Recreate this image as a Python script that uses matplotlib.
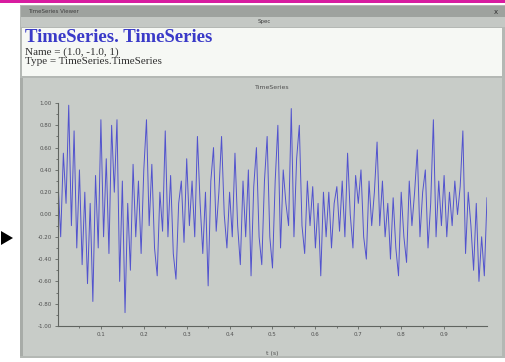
import matplotlib.pyplot as plt
from matplotlib.patches import Rectangle, Polygon
import numpy as np

# signal, 16 samples per 0.1 of time
values = [
    0.3, -0.2, 0.55, 0.1, 0.98, -0.1, 0.75, -0.3, 0.4, -0.45, 0.2, -0.62, 0.1, -0.78, 0.35, -0.3,
    0.85, -0.2, 0.5, -0.35, 0.8, 0.2, 0.85, -0.6, 0.3, -0.88, 0.1, -0.5, 0.45, -0.2, 0.3, -0.35,
    0.4, 0.85, -0.1, 0.45, -0.3, -0.55, 0.2, -0.15, 0.75, -0.2, 0.35, -0.35, -0.58, 0.1, 0.3, -0.25,
    0.5, -0.1, 0.3, -0.2, 0.7, 0.1, -0.35, 0.2, -0.64, 0.3, 0.6, -0.15, 0.2, 0.7, 0.0, -0.3,
    0.2, -0.2, 0.55, -0.1, -0.45, 0.3, -0.2, 0.4, -0.55, 0.25, 0.6, -0.2, -0.45, 0.3, 0.7, -0.2,
    -0.48, 0.3, 0.8, -0.3, 0.4, 0.1, -0.1, 0.95, -0.2, 0.5, 0.8, -0.1, -0.35, 0.3, -0.1, 0.25,
    -0.3, 0.1, -0.55, 0.2, -0.2, 0.2, -0.3, 0.1, 0.25, -0.15, 0.3, -0.2, 0.55, 0.0, -0.3, 0.35,
    0.1, 0.4, -0.2, -0.4, 0.3, -0.1, 0.2, 0.65, -0.1, 0.3, -0.2, 0.1, -0.4, 0.15, -0.3, -0.55,
    0.2, -0.2, -0.43, 0.3, -0.1, 0.2, 0.58, -0.2, 0.2, 0.4, -0.3, 0.1, 0.85, -0.2, 0.3, -0.1,
    0.35, -0.2, 0.2, -0.1, 0.3, 0.0, 0.25, 0.75, -0.35, 0.2, -0.1, -0.5, 0.1, -0.6, -0.2, -0.55, 0.15,
]
time = np.linspace(0.0, 1.0, len(values))

y_ticks = [-1.0, -0.8, -0.6, -0.4, -0.2, 0.0, 0.2, 0.4, 0.6, 0.8, 1.0]
x_ticks = [0.1, 0.2, 0.3, 0.4, 0.5, 0.6, 0.7, 0.8, 0.9]

header_title = "TimeSeries. TimeSeries"
header_name = "Name = (1.0, -1.0, 1)"
header_type = "Type = TimeSeries.TimeSeries"

W, H = 506, 362
fig = plt.figure(figsize=(W / 100, H / 100), dpi=100)
fig.patch.set_facecolor("white")


def box(x, y, w, h, color):
    # pixel box measured from the top-left corner
    fig.patches.append(Rectangle((x / W, 1 - (y + h) / H), w / W, h / H,
                                 transform=fig.transFigure, facecolor=color,
                                 edgecolor="none", zorder=-2))


def label(x, y, s, **kw):
    fig.text(x / W, 1 - y / H, s, **kw)


# magenta line at the very top
box(0, 0, W, 3, "#d81ca0")
# window frame and chrome
box(20, 5, 486, 353, "#b4b8b4")
box(21, 6, 484, 11, "#9ea29e")
box(21, 17, 484, 10, "#c4c8c4")
label(28, 11.5, "TimeSeries Viewer", fontsize=4, color="#404040", va="center")
label(258, 21.5, "Spec", fontsize=4, color="#404040", va="center")
label(494, 11.5, "x", fontsize=5, color="#303030", va="center")
# white header panel
box(22, 28, 480, 48, "#f6f8f4")
label(25, 38, header_title, fontsize=13.5, fontweight="bold", family="Liberation Serif",
      color="#3a3ac8", va="center")
label(25, 52, header_name, fontsize=8, family="Liberation Serif", color="#303030", va="center")
label(25, 61, header_type, fontsize=8, family="Liberation Serif", color="#303030", va="center")
# grey plot panel
box(22, 78, 480, 278, "#c8ccc8")
box(20, 78, 3, 278, "#a8aca8")
# arrow outside the window
fig.patches.append(Polygon([(1 / W, 1 - 231 / H), (13 / W, 1 - 238 / H), (1 / W, 1 - 245 / H)],
                           closed=True, transform=fig.transFigure, facecolor="black",
                           edgecolor="none"))

ax = fig.add_axes([58 / W, 1 - 326 / H, 429 / W, 223 / H])
ax.set_zorder(5)
ax.set_facecolor("#c8ccc8")
ax.plot(time, values, color="#2a2ad0", linewidth=0.7, alpha=0.75)
ax.set_xlim(0, 1)
ax.set_ylim(-1, 1)
ax.set_yticks(y_ticks)
ax.set_yticklabels([f"{v:.2f}" for v in y_ticks])
ax.set_yticks(np.arange(-0.9, 1.0, 0.2), minor=True)
ax.set_xticks(x_ticks)
ax.set_xticklabels([f"{v:.1f}" for v in x_ticks])
ax.set_xticks(np.arange(0.05, 1.0, 0.1), minor=True)
for side in ("top", "right"):
    ax.spines[side].set_visible(False)
for side in ("left", "bottom"):
    ax.spines[side].set_color("#606460")
    ax.spines[side].set_linewidth(0.8)
ax.tick_params(which="both", colors="#606460", labelcolor="#505050", labelsize=4,
               length=2.5, width=0.6, pad=2)
ax.tick_params(which="minor", length=1.5)
ax.set_title("TimeSeries", fontsize=4.5, color="#505050", pad=10)
ax.set_xlabel("t (s)", fontsize=4.5, color="#505050", labelpad=10)

fig.savefig("out.png", dpi=100)
